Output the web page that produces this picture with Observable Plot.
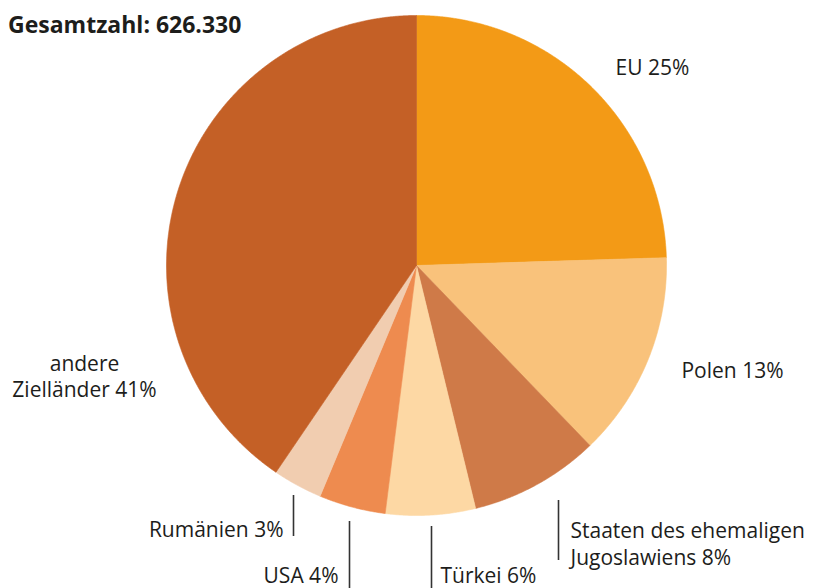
<!DOCTYPE html>
<html>
<head>
<meta charset="utf-8">
<script src="https://cdn.jsdelivr.net/npm/d3@7"></script>
<script src="https://cdn.jsdelivr.net/npm/@observablehq/plot@0.6"></script>
<style>
  body { margin: 0; background: #fff; }
  #wrap { position: relative; width: 820px; height: 588px; }
  #title { position: absolute; left: 8px; top: 8px; font: bold 23px "Open Sans", sans-serif; color: #1d1d1b; z-index: 2; letter-spacing: 0px; }
</style>
</head>
<body>
<div id="wrap">
  <div id="title">Gesamtzahl: 626.330</div>
  <div id="chart"></div>
</div>
<script>
// Data (clockwise from 12 o'clock)
const names  = ["EU", "Polen", "Staaten des ehemaligen Jugoslawiens", "Türkei", "USA", "Rumänien", "andere Zielländer"];
const shares = [24.5, 13.3, 8.4, 5.8, 4.3, 3.2, 40.5];
const labels = ["EU 25%", "Polen 13%", "Staaten des ehemaligen\nJugoslawiens 8%", "Türkei 6%", "USA 4%", "Rumänien 3%", "andere\nZielländer 41%"];
const colors = ["#F39A16", "#F9C27B", "#CF7A48", "#FDD8A4", "#EE8B4F", "#F1CDB0", "#C46026"];

// Layout (unit-circle coordinates) for labels and leader lines
const labelPos = [
  {x: 0.944, y: 0.794, anchor: "middle"},
  {x: 1.264, y: -0.415, anchor: "middle"},
  {x: 0.616, y: -1.11, anchor: "start"},
  {x: 0.096, y: -1.238, anchor: "start"},
  {x: -0.312, y: -1.238, anchor: "end"},
  {x: -0.532, y: -1.052, anchor: "end"},
  {x: -1.328, y: -0.44, anchor: "middle"}
];
const leaders = [
  {x: 0.568, y1: -0.94, y2: -1.18},
  {x: 0.06, y1: -1.044, y2: -1.292},
  {x: -0.268, y1: -1.024, y2: -1.292},
  {x: -0.492, y1: -0.92, y2: -1.084}
];

const pie = d3.pie().sort(null).value(d => d.share).startAngle(0).endAngle(2 * Math.PI);
const arcs = pie(names.map((name, i) => ({name, share: shares[i]})));
const pts = [];
for (const a of arcs) {
  const n = Math.max(2, Math.ceil((a.endAngle - a.startAngle) / (Math.PI / 720)));
  pts.push({name: a.data.name, x: 0, y: 0});
  for (let k = 0; k <= n; k++) {
    const t = a.startAngle + (a.endAngle - a.startAngle) * k / n;
    pts.push({name: a.data.name, x: Math.sin(t), y: Math.cos(t)});
  }
  pts.push({name: a.data.name, x: 0, y: 0});
}
const labelData = labels.map((text, i) => ({text, ...labelPos[i]}));

const chart = Plot.plot({
  width: 820,
  height: 588,
  marginLeft: 166,
  marginRight: 154,
  marginTop: 15,
  marginBottom: 73,
  x: {domain: [-1, 1], axis: null},
  y: {domain: [-1, 1], axis: null},
  color: {domain: names, range: colors},
  style: {fontFamily: "'Open Sans', sans-serif", background: "#fff"},
  marks: [
    Plot.line(pts, {x: "x", y: "y", z: "name", fill: "name", stroke: "name", strokeWidth: 0.6, curve: "linear"}),
    Plot.ruleX(leaders, {x: "x", y1: "y1", y2: "y2", stroke: "#333", strokeWidth: 1.6}),
    ...["start", "middle", "end"].map(anc =>
      Plot.text(labelData.filter(d => d.anchor === anc), {
        x: "x", y: "y", text: "text", textAnchor: anc,
        fontSize: 21, fill: "#1d1d1b", lineHeight: 1.26
      })
    )
  ]
});
document.getElementById("chart").appendChild(chart);
</script>
</body>
</html>
